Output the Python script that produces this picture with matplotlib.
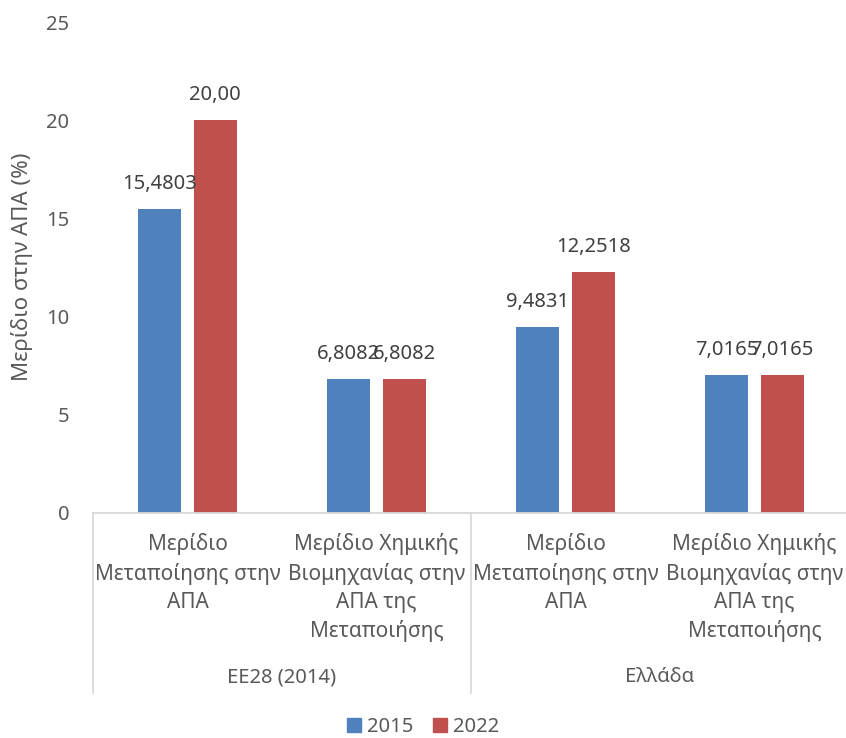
import numpy as np
import matplotlib.pyplot as plt
from matplotlib.patches import Patch

plt.rcParams['font.family'] = ['Noto Sans', 'DejaVu Sans']

groups = ['ΕΕ28 (2014)', 'Ελλάδα']
categories = ['Μερίδιο\nΜεταποίησης στην\nΑΠΑ',
              'Μερίδιο Χημικής\nΒιομηχανίας στην\nΑΠΑ της\nΜεταποιήσης',
              'Μερίδιο\nΜεταποίησης στην\nΑΠΑ',
              'Μερίδιο Χημικής\nΒιομηχανίας στην\nΑΠΑ της\nΜεταποιήσης']
series = ['2015', '2022']
values_2015 = [15.4803, 6.8082, 9.4831, 7.0165]
values_2022 = [20.00, 6.8082, 12.2518, 7.0165]
labels_2015 = ['15,4803', '6,8082', '9,4831', '7,0165']
labels_2022 = ['20,00', '6,8082', '12,2518', '7,0165']

blue = '#4F81BD'
red = '#C0504D'
txt = '#595959'
line = '#D9D9D9'
fs = 14.5

W, H = 846, 738
fig = plt.figure(figsize=(W / 100, H / 100), dpi=100)
left, right, bottom, top = 93, 849, 513, 22
ax = fig.add_axes([left / W, (H - bottom) / H, (right - left) / W, (bottom - top) / H])
ax_h = bottom - top

x = np.arange(len(categories))
bw = 0.228
off = 0.146
ax.bar(x - off, values_2015, bw, color=blue)
ax.bar(x + off, values_2022, bw, color=red)

# value labels above each bar
pt = 72 / 100
for xi, v, s in zip(x - off, values_2015, labels_2015):
    ax.annotate(s, (xi, v), xytext=(0, 25 * pt), textcoords='offset points',
                ha='center', va='center', fontsize=fs, color='#404040')
for xi, v, s in zip(x + off, values_2022, labels_2022):
    ax.annotate(s, (xi, v), xytext=(0, 25 * pt), textcoords='offset points',
                ha='center', va='center', fontsize=fs, color='#404040')

ax.set_xlim(-0.5, 3.5)
ax.set_ylim(0, 25)
ax.set_yticks([0, 5, 10, 15, 20, 25])
ax.set_xticks([])
ax.tick_params(axis='y', length=0, pad=17, labelsize=fs, labelcolor=txt)
for sp in ['top', 'right', 'left']:
    ax.spines[sp].set_visible(False)
ax.spines['bottom'].set_color(line)
ax.spines['bottom'].set_linewidth(1.3)
fig.text(22 / W, (H - 267) / H, 'Μερίδιο στην ΑΠΑ (%)', rotation=90,
         ha='center', va='center', fontsize=16, color=txt)

# two-level category axis
for xi, c in zip(x, categories):
    ax.annotate(c, (xi, 0), xycoords=('data', 'axes fraction'),
                xytext=(0, -20 * pt), textcoords='offset points',
                ha='center', va='top', fontsize=15, color=txt, linespacing=1.45)
for gi, g in enumerate(groups):
    ax.annotate(g, (2 * gi + 0.5, 0), xycoords=('data', 'axes fraction'),
                xytext=(0, -164 * pt), textcoords='offset points',
                ha='center', va='center', fontsize=fs, color=txt)
for xs in [-0.5, 1.5, 3.5]:
    ax.plot([xs, xs], [0, -180 / ax_h], transform=ax.get_xaxis_transform(),
            color=line, lw=1.3, clip_on=False)

handles = [Patch(color=blue), Patch(color=red)]
fig.legend(handles, series, loc='center', bbox_to_anchor=(0.5, (H - 727) / H),
           ncol=2, frameon=False, fontsize=fs, labelcolor=txt,
           handlelength=0.7, handleheight=0.7, handletextpad=0.3, columnspacing=1.0)

fig.savefig('out.png', dpi=100)
